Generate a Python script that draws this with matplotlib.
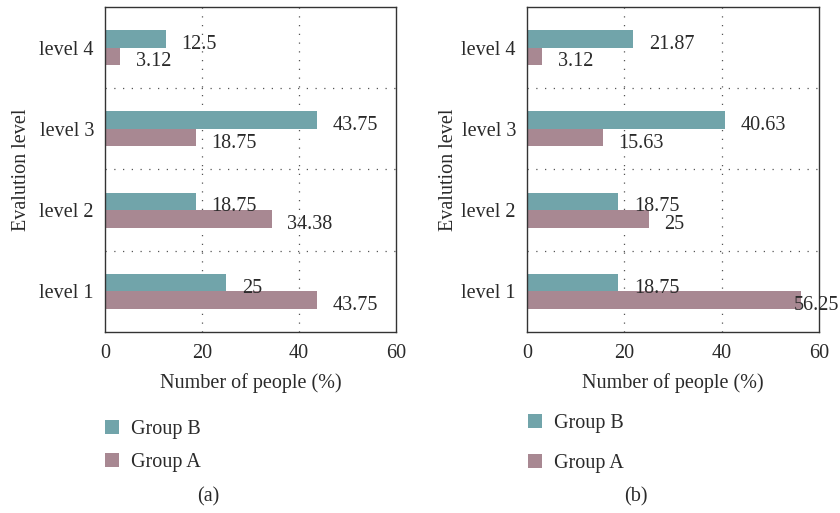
import matplotlib
matplotlib.use('Agg')
import matplotlib.pyplot as plt
import numpy as np

levels = ['level 1', 'level 2', 'level 3', 'level 4']
group_b_a = [25, 18.75, 43.75, 12.5]
group_a_a = [43.75, 34.38, 18.75, 3.12]
group_b_b = [18.75, 18.75, 40.63, 21.87]
group_a_b = [56.25, 25, 15.63, 3.12]
xticks = [0, 20, 40, 60]

teal = '#71a4aa'
mauve = '#a88892'
ink = '#2a2a2a'

plt.rcParams['font.family'] = ['Liberation Serif', 'DejaVu Serif']
plt.rcParams['font.size'] = 14.5
plt.rcParams['text.color'] = ink

fig = plt.figure(figsize=(8.4, 5.13), dpi=100)

def panel(rect, b_vals, a_vals, ylab_x, leg_anchor, leg_space, tag, tag_xy):
	ax = fig.add_axes(rect)
	y = np.arange(len(levels))
	h = 0.215
	bb = ax.barh(y + h / 2, b_vals, height=h, color=teal, label='Group B', zorder=2)
	ba = ax.barh(y - h / 2, a_vals, height=h, color=mauve, label='Group A', zorder=2)

	for yy, v in zip(y + h / 2, b_vals):
		ax.text(v + 3.2, yy - 0.123, f'{v:g}', va='baseline', ha='left', color=ink)
	for yy, v in zip(y - h / 2, a_vals):
		# label would run off the axes, so it sits on the bar end
		xx = v - 1.4 if v > 50 else v + 3.2
		ax.text(xx, yy - 0.123, f'{v:g}', va='baseline', ha='left', color=ink, zorder=3)

	ax.set_xlim(0, 60)
	ax.set_ylim(-0.5, 3.5)
	ax.set_xticks(xticks)
	ax.set_yticks(y)
	ax.set_yticklabels(levels)
	ax.tick_params(length=0, pad=8, colors=ink)
	ax.tick_params(axis='x', pad=9)

	for x in [20, 40]:
		ax.axvline(x, color='#555555', lw=0.9, ls=(0, (1, 6)), zorder=1)
	for yy in [0.5, 1.5, 2.5]:
		ax.axhline(yy, color='#555555', lw=0.9, ls=(0, (1, 6)), zorder=1)
	for s in ax.spines.values():
		s.set_color('#333333')
		s.set_linewidth(1.0)

	ax.set_xlabel('Number of people (%)', color=ink)
	ax.xaxis.set_label_coords(0.5, -0.125)
	ax.set_ylabel('Evalution level', color=ink)
	ax.yaxis.set_label_coords(ylab_x, 0.5)

	fig.legend(handles=[bb, ba], loc='center left', bbox_to_anchor=leg_anchor,
		bbox_transform=fig.transFigure, frameon=False, borderpad=0, borderaxespad=0,
		handlelength=0.7, handleheight=0.7, handletextpad=0.6, labelspacing=leg_space,
		fontsize=14.5, labelcolor=ink)
	fig.text(tag_xy[0], tag_xy[1], tag, ha='center', va='center', color=ink)
	return ax

panel([105 / 840, 181 / 513, 291 / 840, 325 / 513], group_b_a, group_a_a,
	-0.256, (105 / 840, 1 - 446 / 513), 0.65, '(a)', (208 / 840, 1 - 497 / 513))
panel([527 / 840, 181 / 513, 292 / 840, 325 / 513], group_b_b, group_a_b,
	-0.236, (528 / 840, 1 - 443.5 / 513), 1.0, '(b)', (636 / 840, 1 - 497 / 513))

fig.savefig('out.png', dpi=100)
